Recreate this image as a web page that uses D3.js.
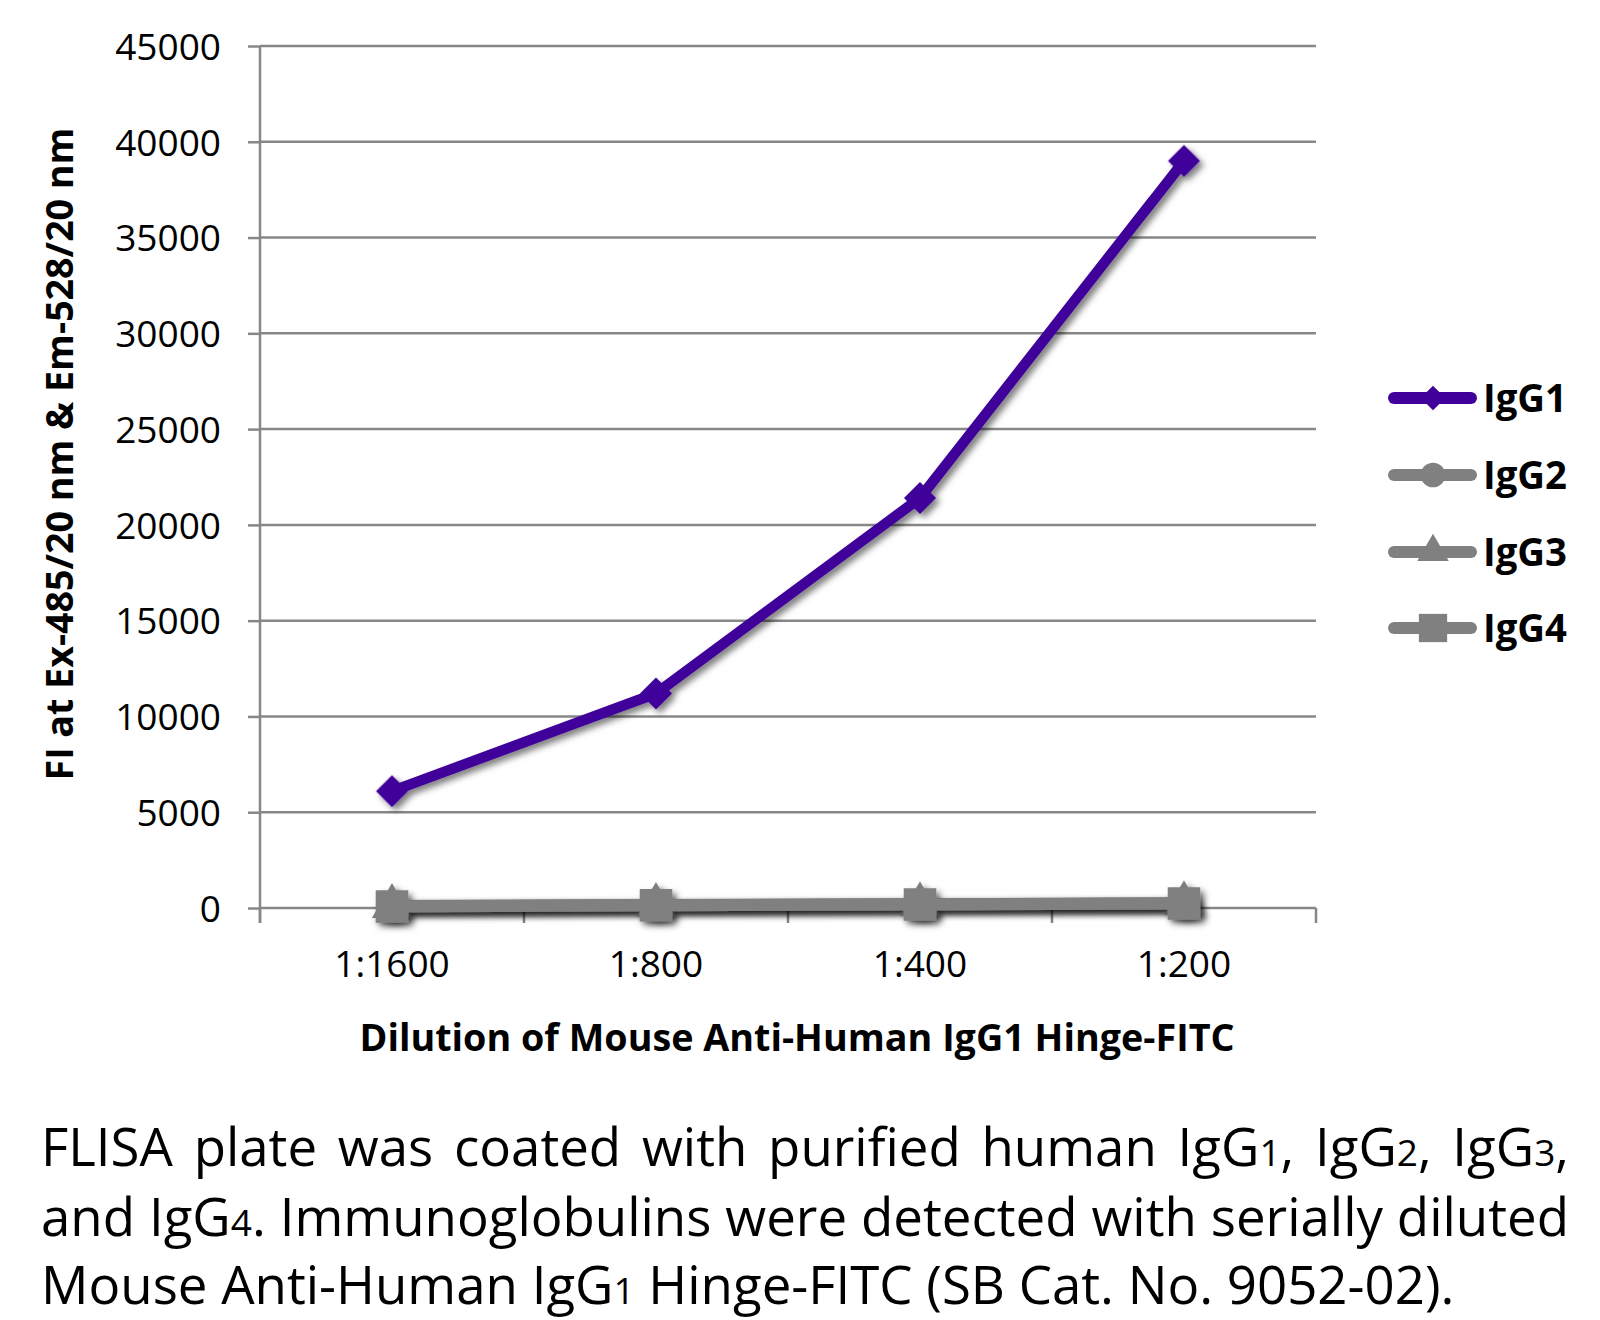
<!DOCTYPE html>
<html><head><meta charset="utf-8">
<script src="https://cdn.jsdelivr.net/npm/d3@7"></script>
<style>
body{margin:0;background:#fff}
svg{display:block}
text{font-family:"Open Sans",sans-serif;fill:#000}
</style>
</head><body>
<svg id="c" width="1600" height="1320"></svg>
<script>
// ---- data ----
const categories = ["1:1600", "1:800", "1:400", "1:200"];
const igg1 = [6100, 11200, 21400, 39000];
const igg2 = [100, 160, 200, 250];
const igg3 = [90, 150, 190, 240];
const igg4 = [80, 140, 180, 230];
const yTicks = [0, 5000, 10000, 15000, 20000, 25000, 30000, 35000, 40000, 45000];
const seriesNames = ["IgG1", "IgG2", "IgG3", "IgG4"];
const seriesValues = [igg1, igg2, igg3, igg4];
const seriesColors = ["#41009a", "#808080", "#808080", "#808080"];
const yTitle = "FI at Ex-485/20 nm & Em-528/20 nm";
const xTitle = "Dilution of Mouse Anti-Human IgG1 Hinge-FITC";
const captionLines = [
  "FLISA plate was coated with purified human IgG_1, IgG_2, IgG_3,",
  "and IgG_4. Immunoglobulins were detected with serially diluted",
  "Mouse Anti-Human IgG_1 Hinge-FITC (SB Cat. No. 9052-02)."
];

// ---- layout ----
const svg = d3.select("#c");
const L = 260, R = 1316, T = 46, B = 908;
const x = d3.scaleBand().domain(categories).range([L, R]);
const y = d3.scaleLinear().domain([0, 45000]).range([B, T]);
const gridColor = "#878787";

const defs = svg.append("defs");
const f = defs.append("filter").attr("id", "sh").attr("x", "-50%").attr("y", "-50%").attr("width", "200%").attr("height", "200%");
f.append("feDropShadow").attr("dx", 4).attr("dy", 4).attr("stdDeviation", 3)
  .attr("flood-color", "#000").attr("flood-opacity", 0.5);

// gridlines
svg.append("g").selectAll("line").data(yTicks).join("line")
  .attr("x1", L).attr("x2", R).attr("y1", d => y(d)).attr("y2", d => y(d))
  .attr("stroke", gridColor).attr("stroke-width", 2.5);

// y axis
const ya = svg.append("g").attr("transform", `translate(${L},0)`)
  .call(d3.axisLeft(y).tickValues(yTicks).tickSize(12).tickPadding(27).tickFormat(d3.format("d")));
ya.select(".domain").remove();
ya.selectAll(".tick line").attr("stroke", gridColor).attr("stroke-width", 2.5);
ya.selectAll(".tick text").attr("font-size", 37).attr("font-family", "Open Sans").attr("dy", "0.36em").attr("fill", "#000");
svg.append("line").attr("x1", L).attr("x2", L).attr("y1", T).attr("y2", B + 15)
  .attr("stroke", gridColor).attr("stroke-width", 2.5);

// x boundary ticks
const bounds = categories.map(c => x(c)).concat([x(categories[categories.length - 1]) + x.bandwidth()]);
svg.append("g").selectAll("line").data(bounds).join("line")
  .attr("x1", d => d).attr("x2", d => d).attr("y1", B).attr("y2", B + 15)
  .attr("stroke", gridColor).attr("stroke-width", 2.5);

// x axis labels
const xa = svg.append("g").attr("transform", `translate(0,${B})`)
  .call(d3.axisBottom(x).tickSize(0).tickPadding(0));
xa.select(".domain").remove();
xa.selectAll(".tick text").attr("font-size", 37).attr("font-family", "Open Sans")
  .attr("y", 69).attr("dy", 0).attr("fill", "#000");

// titles
svg.append("text").attr("transform", "translate(73,454) rotate(-90)")
  .attr("text-anchor", "middle").attr("font-weight", "bold").attr("font-size", 38)
  .attr("textLength", 653).attr("lengthAdjust", "spacingAndGlyphs").text(yTitle);
svg.append("text").attr("x", 797).attr("y", 1051)
  .attr("text-anchor", "middle").attr("font-weight", "bold").attr("font-size", 38)
  .attr("textLength", 875).attr("lengthAdjust", "spacingAndGlyphs").text(xTitle);

// series
const symbolsPlot = [
  {p: d3.symbol(d3.symbolSquare, 512)(), rot: 45},
  {p: d3.symbol(d3.symbolCircle, 700)(), rot: 0},
  {p: d3.symbol(d3.symbolTriangle, 700)(), rot: 0},
  {p: d3.symbol(d3.symbolSquare, 1060)(), rot: 0}
];
const symbolsLeg = [
  {p: d3.symbol(d3.symbolSquare, 300)(), rot: 45},
  {p: d3.symbol(d3.symbolCircle, 480)(), rot: 0},
  {p: d3.symbol(d3.symbolTriangle, 430)(), rot: 0},
  {p: d3.symbol(d3.symbolSquare, 800)(), rot: 0}
];
const line = d3.line().x((d, i) => x(categories[i]) + x.bandwidth() / 2).y(d => y(d));
const widths = [10.5, 12, 12, 12];
seriesValues.forEach((vals, s) => {
  const g = svg.append("g").attr("filter", "url(#sh)");
  g.append("path").datum(vals).attr("d", line).attr("fill", "none")
    .attr("stroke", seriesColors[s]).attr("stroke-width", widths[s]).attr("stroke-linejoin", "round");
  g.selectAll("path.m").data(vals).join("path").attr("class", "m")
    .attr("d", symbolsPlot[s].p).attr("fill", seriesColors[s])
    .attr("transform", (d, i) => `translate(${x(categories[i]) + x.bandwidth() / 2},${y(d)}) rotate(${symbolsPlot[s].rot})`);
});

// legend
const legY = [398, 475, 552, 628];
seriesNames.forEach((n, s) => {
  const g = svg.append("g").attr("transform", `translate(0,${legY[s]})`);
  g.append("line").attr("x1", 1394).attr("x2", 1471).attr("y1", 0).attr("y2", 0)
    .attr("stroke", seriesColors[s]).attr("stroke-width", 12).attr("stroke-linecap", "round");
  g.append("path").attr("d", symbolsLeg[s].p).attr("fill", seriesColors[s])
    .attr("transform", `translate(1433,0) rotate(${symbolsLeg[s].rot})`);
  g.append("text").attr("x", 1483).attr("y", 14).attr("font-weight", "bold").attr("font-size", 40)
    .attr("textLength", 84).attr("lengthAdjust", "spacingAndGlyphs").text(n);
});

// caption (justified lines 1-2, left-aligned line 3), font size fitted to width
const capBase = [1166, 1236, 1304];
const capX = 41, capW = 1528;
function buildCaption(fs) {
  svg.selectAll("text.cap").remove();
  return captionLines.map((s, i) => {
    const t = svg.append("text").attr("class", "cap").attr("x", capX).attr("y", capBase[i])
      .attr("font-family", "Lato").attr("font-size", fs);
    s.split(/(_\d)/).forEach(part => {
      if (!part) return;
      if (part[0] === "_") t.append("tspan").attr("font-size", Math.round(fs * 0.7)).text(part.slice(1));
      else t.append("tspan").text(part);
    });
    return t;
  });
}
let fs = 57;
let caps = buildCaption(fs);
const w2 = caps[1].node().getComputedTextLength();
if (w2 > capW) { fs = Math.floor(fs * capW / w2 * 10) / 10; caps = buildCaption(fs); }
{
  const t = caps[0];
  const w = t.node().getComputedTextLength();
  const spaces = (captionLines[0].match(/ /g) || []).length;
  t.attr("word-spacing", Math.max(0, (capW - w) / spaces));
}
{
  const t = caps[1];
  const w = t.node().getComputedTextLength();
  const spaces = (captionLines[1].match(/ /g) || []).length;
  t.attr("word-spacing", Math.max(0, (capW - w) / spaces));
}
</script>
</body></html>
